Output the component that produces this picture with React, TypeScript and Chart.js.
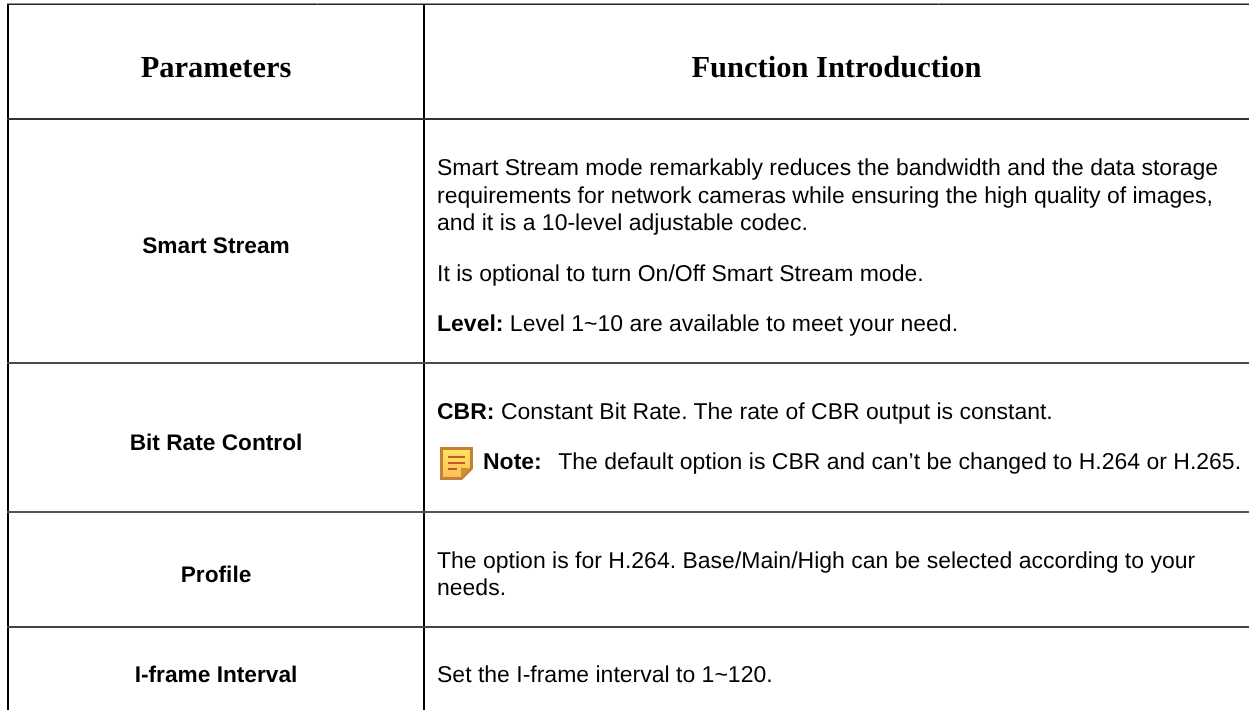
import React, { useEffect, useRef } from "react";
import { Chart, registerables } from "chart.js";

Chart.register(...registerables);

const WIDTH = 1249;
const HEIGHT = 710;

const columnEdges = [8, 424];
const rowEdges = [4, 119, 363, 512, 627];
const ruleColors = ["#909090", "#222222", "#333333", "#4a4a4a", "#555555", "#444444"];

const headers = ["Parameters", "Function Introduction"];
const parameters = ["Smart Stream", "Bit Rate Control", "Profile", "I-frame Interval"];

type Run = { t: string; b?: boolean };
type Line = { runs: Run[]; gap: number; icon?: boolean };

const smartStreamLines: Line[] = [
  { runs: [{ t: "Smart Stream mode remarkably reduces the bandwidth and the data storage" }], gap: 0 },
  { runs: [{ t: "requirements for network cameras while ensuring the high quality of images," }], gap: 27.5 },
  { runs: [{ t: "and it is a 10-level adjustable codec." }], gap: 27.5 },
  { runs: [{ t: "It is optional to turn On/Off Smart Stream mode." }], gap: 50.5 },
  { runs: [{ t: "Level:", b: true }, { t: " Level 1~10 are available to meet your need." }], gap: 50 },
];
const bitRateLines: Line[] = [
  { runs: [{ t: "CBR:", b: true }, { t: " Constant Bit Rate. The rate of CBR output is constant." }], gap: 0 },
  { runs: [{ t: "Note:", b: true }, { t: "The default option is CBR and can\u2019t be changed to H.264 or H.265." }], gap: 50, icon: true },
];
const profileLines: Line[] = [
  { runs: [{ t: "The option is for H.264. Base/Main/High can be selected according to your" }], gap: 0 },
  { runs: [{ t: "needs." }], gap: 27 },
];
const iframeLines: Line[] = [{ runs: [{ t: "Set the I-frame interval to 1~120." }], gap: 0 }];

const descriptions = [smartStreamLines, bitRateLines, profileLines, iframeLines];

const SANS = '"Liberation Sans", Arial, sans-serif';
const SERIF = '"Liberation Serif", "Times New Roman", serif';

function drawNoteIcon(ctx: CanvasRenderingContext2D, x: number, y: number) {
  const s = 33;
  const fold = 11;
  ctx.save();
  ctx.translate(x, y);
  ctx.beginPath();
  ctx.moveTo(0, 0);
  ctx.lineTo(s, 0);
  ctx.lineTo(s, s - fold);
  ctx.lineTo(s - fold, s);
  ctx.lineTo(0, s);
  ctx.closePath();
  ctx.fillStyle = "#c47f3a";
  ctx.fill();
  ctx.beginPath();
  ctx.moveTo(3, 3);
  ctx.lineTo(s - 3, 3);
  ctx.lineTo(s - 3, s - fold - 1);
  ctx.lineTo(s - fold - 1, s - 3);
  ctx.lineTo(3, s - 3);
  ctx.closePath();
  const g = ctx.createLinearGradient(0, 3, 0, s - 3);
  g.addColorStop(0, "#ffe45e");
  g.addColorStop(1, "#fdbf5c");
  ctx.fillStyle = g;
  ctx.fill();
  ctx.beginPath();
  ctx.moveTo(s - 3, s - fold - 1);
  ctx.lineTo(s - fold - 1, s - fold - 1);
  ctx.lineTo(s - fold - 1, s - 3);
  ctx.closePath();
  ctx.fillStyle = "#c9912f";
  ctx.fill();
  ctx.fillStyle = "#c4562a";
  ctx.fillRect(8, 9, 17, 2);
  ctx.fillRect(8, 15, 17, 2);
  ctx.fillRect(8, 21, 9, 2);
  ctx.restore();
}

const tablePlugin = {
  id: "tableText",
  afterDraw(chart: any) {
    const { ctx } = chart;
    const xs = chart.scales.x;
    const ys = chart.scales.y;
    const left = xs.getPixelForValue(columnEdges[0]);
    const mid = xs.getPixelForValue(columnEdges[1]);
    const right = xs.getPixelForValue(WIDTH);
    ctx.save();
    ctx.fillStyle = "#000";
    ctx.textBaseline = "alphabetic";
    ctx.textRendering = "geometricPrecision";

    ctx.textAlign = "center";
    ctx.font = `bold 30.5px ${SERIF}`;
    const headBase = ys.getPixelForValue(rowEdges[0]) + 73;
    ctx.fillText(headers[0], (left + mid) / 2, headBase);
    ctx.fillText(headers[1], (mid + right) / 2, headBase);

    ctx.font = `bold 22.7px ${SANS}`;
    parameters.forEach((p, i) => {
      const firstBaseline = ys.getPixelForValue(rowEdges[i + 1]) + (i === 3 ? 55 : 56);
      const top = ys.getPixelForValue(rowEdges[i + 1]);
      const bottom = i + 2 < rowEdges.length ? ys.getPixelForValue(rowEdges[i + 2]) : 738;
      const y = i === 3 ? firstBaseline : (top + bottom) / 2 + 12;
      ctx.fillText(p, (left + mid) / 2, y);
    });

    ctx.textAlign = "left";
    descriptions.forEach((lines, i) => {
      let y = ys.getPixelForValue(rowEdges[i + 1]) + (i === 3 ? 55 : 56);
      lines.forEach((line) => {
        y += line.gap;
        let x = mid + 13;
        if (line.icon) {
          drawNoteIcon(ctx, x + 3, y - 22);
          x += 46;
        }
        line.runs.forEach((r, k) => {
          ctx.font = `${r.b ? "bold " : ""}23px ${SANS}`;
          ctx.fillText(r.t, x, y);
          x += ctx.measureText(r.t).width + (line.icon && k === 0 ? 16.5 : 0);
        });
      });
    });
    ctx.restore();
  },
};

export default function App() {
  const ref = useRef<HTMLCanvasElement | null>(null);
  useEffect(() => {
    if (!ref.current) return;
    const chart = new Chart(ref.current, {
      type: "scatter",
      data: { datasets: [] },
      plugins: [tablePlugin],
      options: {
        animation: false,
        responsive: false,
        layout: { padding: { left: 7, top: 3, right: 0, bottom: 0 } },
        plugins: { legend: { display: false }, tooltip: { enabled: false }, title: { display: false } },
        scales: {
          x: {
            type: "linear",
            min: 7,
            max: WIDTH,
            afterBuildTicks: (s: any) => {
              s.ticks = columnEdges.map((value) => ({ value }));
            },
            ticks: { display: false },
            border: { display: false },
            grid: { drawTicks: false, color: "#000", lineWidth: 2 },
          },
          y: {
            type: "linear",
            reverse: true,
            min: 3,
            max: HEIGHT,
            afterBuildTicks: (s: any) => {
              s.ticks = [3, ...rowEdges].map((value) => ({ value }));
            },
            ticks: { display: false },
            border: { display: false },
            grid: {
              drawTicks: false,
              color: (c: any) => ruleColors[c.index] ?? "#444",
              lineWidth: (c: any) => (c.index < 2 ? 1 : 2),
            },
          },
        },
      },
    } as any);
    return () => chart.destroy();
  }, []);
  return (
    <div style={{ position: "fixed", left: 0, top: 0, width: WIDTH, height: HEIGHT, background: "#fff" }}>
      <canvas ref={ref} width={WIDTH} height={HEIGHT} style={{ display: "block" }} />
    </div>
  );
}
